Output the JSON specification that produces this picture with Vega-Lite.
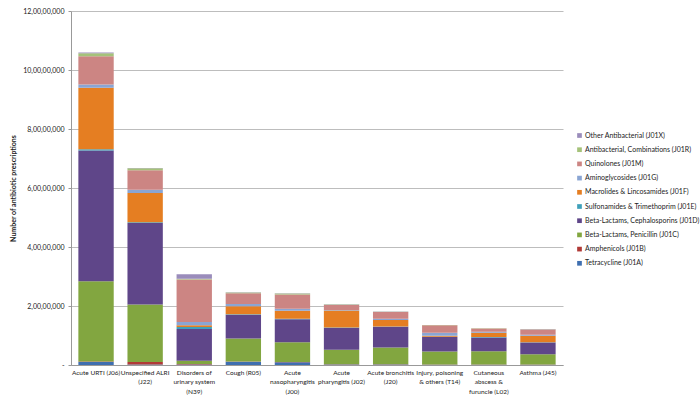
{
  "$schema": "https://vega.github.io/schema/vega-lite/v6.json",
  "width": 492,
  "height": 354,
  "autosize": {"type": "none"},
  "padding": {"left": 71, "top": 11, "right": 137, "bottom": 36},
  "background": "white",
  "config": {
    "view": {"stroke": null},
    "font": "Lato",
    "axis": {"labelFont": "Lato", "titleFont": "Lato", "labelColor": "#222", "titleColor": "#222"}
  },
  "datasets": {
    "rx": [
      {"diagnosis": "Acute URTI (J06)", "cls": "Tetracycline (J01A)", "idx": 0, "value": 1000000},
      {"diagnosis": "Acute URTI (J06)", "cls": "Amphenicols (J01B)", "idx": 1, "value": 200000},
      {"diagnosis": "Acute URTI (J06)", "cls": "Beta-Lactams, Penicillin (J01C)", "idx": 2, "value": 27200000},
      {"diagnosis": "Acute URTI (J06)", "cls": "Beta-Lactams, Cephalosporins (J01D)", "idx": 3, "value": 44300000},
      {"diagnosis": "Acute URTI (J06)", "cls": "Sulfonamides & Trimethoprim (J01E)", "idx": 4, "value": 400000},
      {"diagnosis": "Acute URTI (J06)", "cls": "Macrolides & Lincosamides (J01F)", "idx": 5, "value": 20900000},
      {"diagnosis": "Acute URTI (J06)", "cls": "Aminoglycosides (J01G)", "idx": 6, "value": 1100000},
      {"diagnosis": "Acute URTI (J06)", "cls": "Quinolones (J01M)", "idx": 7, "value": 9600000},
      {"diagnosis": "Acute URTI (J06)", "cls": "Antibacterial, Combinations (J01R)", "idx": 8, "value": 1000000},
      {"diagnosis": "Acute URTI (J06)", "cls": "Other Antibacterial (J01X)", "idx": 9, "value": 200000},

      {"diagnosis": "Unspecified ALRI\n(J22)", "cls": "Tetracycline (J01A)", "idx": 0, "value": 200000},
      {"diagnosis": "Unspecified ALRI\n(J22)", "cls": "Amphenicols (J01B)", "idx": 1, "value": 800000},
      {"diagnosis": "Unspecified ALRI\n(J22)", "cls": "Beta-Lactams, Penicillin (J01C)", "idx": 2, "value": 19500000},
      {"diagnosis": "Unspecified ALRI\n(J22)", "cls": "Beta-Lactams, Cephalosporins (J01D)", "idx": 3, "value": 27600000},
      {"diagnosis": "Unspecified ALRI\n(J22)", "cls": "Sulfonamides & Trimethoprim (J01E)", "idx": 4, "value": 300000},
      {"diagnosis": "Unspecified ALRI\n(J22)", "cls": "Macrolides & Lincosamides (J01F)", "idx": 5, "value": 9900000},
      {"diagnosis": "Unspecified ALRI\n(J22)", "cls": "Aminoglycosides (J01G)", "idx": 6, "value": 1100000},
      {"diagnosis": "Unspecified ALRI\n(J22)", "cls": "Quinolones (J01M)", "idx": 7, "value": 6600000},
      {"diagnosis": "Unspecified ALRI\n(J22)", "cls": "Antibacterial, Combinations (J01R)", "idx": 8, "value": 700000},
      {"diagnosis": "Unspecified ALRI\n(J22)", "cls": "Other Antibacterial (J01X)", "idx": 9, "value": 100000},

      {"diagnosis": "Disorders of\nurinary system\n(N39)", "cls": "Tetracycline (J01A)", "idx": 0, "value": 200000},
      {"diagnosis": "Disorders of\nurinary system\n(N39)", "cls": "Amphenicols (J01B)", "idx": 1, "value": 100000},
      {"diagnosis": "Disorders of\nurinary system\n(N39)", "cls": "Beta-Lactams, Penicillin (J01C)", "idx": 2, "value": 1100000},
      {"diagnosis": "Disorders of\nurinary system\n(N39)", "cls": "Beta-Lactams, Cephalosporins (J01D)", "idx": 3, "value": 10800000},
      {"diagnosis": "Disorders of\nurinary system\n(N39)", "cls": "Sulfonamides & Trimethoprim (J01E)", "idx": 4, "value": 700000},
      {"diagnosis": "Disorders of\nurinary system\n(N39)", "cls": "Macrolides & Lincosamides (J01F)", "idx": 5, "value": 600000},
      {"diagnosis": "Disorders of\nurinary system\n(N39)", "cls": "Aminoglycosides (J01G)", "idx": 6, "value": 1100000},
      {"diagnosis": "Disorders of\nurinary system\n(N39)", "cls": "Quinolones (J01M)", "idx": 7, "value": 14400000},
      {"diagnosis": "Disorders of\nurinary system\n(N39)", "cls": "Antibacterial, Combinations (J01R)", "idx": 8, "value": 200000},
      {"diagnosis": "Disorders of\nurinary system\n(N39)", "cls": "Other Antibacterial (J01X)", "idx": 9, "value": 1600000},

      {"diagnosis": "Cough (R05)", "cls": "Tetracycline (J01A)", "idx": 0, "value": 1100000},
      {"diagnosis": "Cough (R05)", "cls": "Amphenicols (J01B)", "idx": 1, "value": 100000},
      {"diagnosis": "Cough (R05)", "cls": "Beta-Lactams, Penicillin (J01C)", "idx": 2, "value": 7800000},
      {"diagnosis": "Cough (R05)", "cls": "Beta-Lactams, Cephalosporins (J01D)", "idx": 3, "value": 8000000},
      {"diagnosis": "Cough (R05)", "cls": "Sulfonamides & Trimethoprim (J01E)", "idx": 4, "value": 200000},
      {"diagnosis": "Cough (R05)", "cls": "Macrolides & Lincosamides (J01F)", "idx": 5, "value": 2700000},
      {"diagnosis": "Cough (R05)", "cls": "Aminoglycosides (J01G)", "idx": 6, "value": 800000},
      {"diagnosis": "Cough (R05)", "cls": "Quinolones (J01M)", "idx": 7, "value": 3600000},
      {"diagnosis": "Cough (R05)", "cls": "Antibacterial, Combinations (J01R)", "idx": 8, "value": 300000},
      {"diagnosis": "Cough (R05)", "cls": "Other Antibacterial (J01X)", "idx": 9, "value": 100000},

      {"diagnosis": "Acute\nnasopharyngitis\n(J00)", "cls": "Tetracycline (J01A)", "idx": 0, "value": 900000},
      {"diagnosis": "Acute\nnasopharyngitis\n(J00)", "cls": "Amphenicols (J01B)", "idx": 1, "value": 100000},
      {"diagnosis": "Acute\nnasopharyngitis\n(J00)", "cls": "Beta-Lactams, Penicillin (J01C)", "idx": 2, "value": 6700000},
      {"diagnosis": "Acute\nnasopharyngitis\n(J00)", "cls": "Beta-Lactams, Cephalosporins (J01D)", "idx": 3, "value": 7800000},
      {"diagnosis": "Acute\nnasopharyngitis\n(J00)", "cls": "Sulfonamides & Trimethoprim (J01E)", "idx": 4, "value": 200000},
      {"diagnosis": "Acute\nnasopharyngitis\n(J00)", "cls": "Macrolides & Lincosamides (J01F)", "idx": 5, "value": 2700000},
      {"diagnosis": "Acute\nnasopharyngitis\n(J00)", "cls": "Aminoglycosides (J01G)", "idx": 6, "value": 700000},
      {"diagnosis": "Acute\nnasopharyngitis\n(J00)", "cls": "Quinolones (J01M)", "idx": 7, "value": 4800000},
      {"diagnosis": "Acute\nnasopharyngitis\n(J00)", "cls": "Antibacterial, Combinations (J01R)", "idx": 8, "value": 300000},
      {"diagnosis": "Acute\nnasopharyngitis\n(J00)", "cls": "Other Antibacterial (J01X)", "idx": 9, "value": 100000},

      {"diagnosis": "Acute\npharyngitis (J02)", "cls": "Tetracycline (J01A)", "idx": 0, "value": 200000},
      {"diagnosis": "Acute\npharyngitis (J02)", "cls": "Amphenicols (J01B)", "idx": 1, "value": 50000},
      {"diagnosis": "Acute\npharyngitis (J02)", "cls": "Beta-Lactams, Penicillin (J01C)", "idx": 2, "value": 4900000},
      {"diagnosis": "Acute\npharyngitis (J02)", "cls": "Beta-Lactams, Cephalosporins (J01D)", "idx": 3, "value": 7400000},
      {"diagnosis": "Acute\npharyngitis (J02)", "cls": "Sulfonamides & Trimethoprim (J01E)", "idx": 4, "value": 200000},
      {"diagnosis": "Acute\npharyngitis (J02)", "cls": "Macrolides & Lincosamides (J01F)", "idx": 5, "value": 5700000},
      {"diagnosis": "Acute\npharyngitis (J02)", "cls": "Aminoglycosides (J01G)", "idx": 6, "value": 200000},
      {"diagnosis": "Acute\npharyngitis (J02)", "cls": "Quinolones (J01M)", "idx": 7, "value": 1700000},
      {"diagnosis": "Acute\npharyngitis (J02)", "cls": "Antibacterial, Combinations (J01R)", "idx": 8, "value": 200000},
      {"diagnosis": "Acute\npharyngitis (J02)", "cls": "Other Antibacterial (J01X)", "idx": 9, "value": 50000},

      {"diagnosis": "Acute bronchitis\n(J20)", "cls": "Tetracycline (J01A)", "idx": 0, "value": 200000},
      {"diagnosis": "Acute bronchitis\n(J20)", "cls": "Amphenicols (J01B)", "idx": 1, "value": 50000},
      {"diagnosis": "Acute bronchitis\n(J20)", "cls": "Beta-Lactams, Penicillin (J01C)", "idx": 2, "value": 5700000},
      {"diagnosis": "Acute bronchitis\n(J20)", "cls": "Beta-Lactams, Cephalosporins (J01D)", "idx": 3, "value": 7000000},
      {"diagnosis": "Acute bronchitis\n(J20)", "cls": "Sulfonamides & Trimethoprim (J01E)", "idx": 4, "value": 100000},
      {"diagnosis": "Acute bronchitis\n(J20)", "cls": "Macrolides & Lincosamides (J01F)", "idx": 5, "value": 2200000},
      {"diagnosis": "Acute bronchitis\n(J20)", "cls": "Aminoglycosides (J01G)", "idx": 6, "value": 400000},
      {"diagnosis": "Acute bronchitis\n(J20)", "cls": "Quinolones (J01M)", "idx": 7, "value": 2300000},
      {"diagnosis": "Acute bronchitis\n(J20)", "cls": "Antibacterial, Combinations (J01R)", "idx": 8, "value": 100000},
      {"diagnosis": "Acute bronchitis\n(J20)", "cls": "Other Antibacterial (J01X)", "idx": 9, "value": 50000},

      {"diagnosis": "Injury, poisoning\n& others (T14)", "cls": "Tetracycline (J01A)", "idx": 0, "value": 100000},
      {"diagnosis": "Injury, poisoning\n& others (T14)", "cls": "Amphenicols (J01B)", "idx": 1, "value": 50000},
      {"diagnosis": "Injury, poisoning\n& others (T14)", "cls": "Beta-Lactams, Penicillin (J01C)", "idx": 2, "value": 4400000},
      {"diagnosis": "Injury, poisoning\n& others (T14)", "cls": "Beta-Lactams, Cephalosporins (J01D)", "idx": 3, "value": 4900000},
      {"diagnosis": "Injury, poisoning\n& others (T14)", "cls": "Sulfonamides & Trimethoprim (J01E)", "idx": 4, "value": 100000},
      {"diagnosis": "Injury, poisoning\n& others (T14)", "cls": "Macrolides & Lincosamides (J01F)", "idx": 5, "value": 400000},
      {"diagnosis": "Injury, poisoning\n& others (T14)", "cls": "Aminoglycosides (J01G)", "idx": 6, "value": 1000000},
      {"diagnosis": "Injury, poisoning\n& others (T14)", "cls": "Quinolones (J01M)", "idx": 7, "value": 2500000},
      {"diagnosis": "Injury, poisoning\n& others (T14)", "cls": "Antibacterial, Combinations (J01R)", "idx": 8, "value": 100000},
      {"diagnosis": "Injury, poisoning\n& others (T14)", "cls": "Other Antibacterial (J01X)", "idx": 9, "value": 50000},

      {"diagnosis": "Cutaneous\nabscess &\nfuruncle (L02)", "cls": "Tetracycline (J01A)", "idx": 0, "value": 100000},
      {"diagnosis": "Cutaneous\nabscess &\nfuruncle (L02)", "cls": "Amphenicols (J01B)", "idx": 1, "value": 50000},
      {"diagnosis": "Cutaneous\nabscess &\nfuruncle (L02)", "cls": "Beta-Lactams, Penicillin (J01C)", "idx": 2, "value": 4500000},
      {"diagnosis": "Cutaneous\nabscess &\nfuruncle (L02)", "cls": "Beta-Lactams, Cephalosporins (J01D)", "idx": 3, "value": 4700000},
      {"diagnosis": "Cutaneous\nabscess &\nfuruncle (L02)", "cls": "Sulfonamides & Trimethoprim (J01E)", "idx": 4, "value": 100000},
      {"diagnosis": "Cutaneous\nabscess &\nfuruncle (L02)", "cls": "Macrolides & Lincosamides (J01F)", "idx": 5, "value": 1500000},
      {"diagnosis": "Cutaneous\nabscess &\nfuruncle (L02)", "cls": "Aminoglycosides (J01G)", "idx": 6, "value": 300000},
      {"diagnosis": "Cutaneous\nabscess &\nfuruncle (L02)", "cls": "Quinolones (J01M)", "idx": 7, "value": 1100000},
      {"diagnosis": "Cutaneous\nabscess &\nfuruncle (L02)", "cls": "Antibacterial, Combinations (J01R)", "idx": 8, "value": 100000},
      {"diagnosis": "Cutaneous\nabscess &\nfuruncle (L02)", "cls": "Other Antibacterial (J01X)", "idx": 9, "value": 50000},

      {"diagnosis": "Asthma (J45)", "cls": "Tetracycline (J01A)", "idx": 0, "value": 100000},
      {"diagnosis": "Asthma (J45)", "cls": "Amphenicols (J01B)", "idx": 1, "value": 50000},
      {"diagnosis": "Asthma (J45)", "cls": "Beta-Lactams, Penicillin (J01C)", "idx": 2, "value": 3500000},
      {"diagnosis": "Asthma (J45)", "cls": "Beta-Lactams, Cephalosporins (J01D)", "idx": 3, "value": 4000000},
      {"diagnosis": "Asthma (J45)", "cls": "Sulfonamides & Trimethoprim (J01E)", "idx": 4, "value": 100000},
      {"diagnosis": "Asthma (J45)", "cls": "Macrolides & Lincosamides (J01F)", "idx": 5, "value": 2200000},
      {"diagnosis": "Asthma (J45)", "cls": "Aminoglycosides (J01G)", "idx": 6, "value": 300000},
      {"diagnosis": "Asthma (J45)", "cls": "Quinolones (J01M)", "idx": 7, "value": 1800000},
      {"diagnosis": "Asthma (J45)", "cls": "Antibacterial, Combinations (J01R)", "idx": 8, "value": 100000},
      {"diagnosis": "Asthma (J45)", "cls": "Other Antibacterial (J01X)", "idx": 9, "value": 50000}
    ]
  },
  "data": {"name": "rx"},
  "mark": {"type": "bar"},
  "encoding": {
    "x": {
      "field": "diagnosis",
      "type": "nominal",
      "sort": null,
      "scale": {"paddingInner": 0.28, "paddingOuter": 0.15},
      "axis": {
        "title": null,
        "labelAngle": 0,
        "labelExpr": "split(datum.value, '\\n')",
        "labelFontSize": 6.5,
        "labelLineHeight": 9.5,
        "labelPadding": 4,
        "ticks": false,
        "domainColor": "#999",
        "labelLimit": 0
      }
    },
    "y": {
      "field": "value",
      "type": "quantitative",
      "aggregate": "sum",
      "stack": "zero",
      "scale": {"domain": [0, 120000000], "nice": false},
      "axis": {
        "title": "Number of antibiotic prescriptions",
        "titleFontSize": 7,
        "titleFontWeight": "bold",
        "titlePadding": 6,
        "values": [0, 20000000, 40000000, 60000000, 80000000, 100000000, 120000000],
        "labelExpr": "datum.value == 0 ? '-' : format(datum.value / 10000000, 'd') + ',00,00,000'",
        "labelFontSize": 7,
        "labelPadding": 4,
        "tickSize": 3,
        "tickColor": "#999",
        "domainColor": "#999",
        "gridColor": "#bdbdbd",
        "grid": true
      }
    },
    "color": {
      "field": "cls",
      "type": "nominal",
      "scale": {
        "domain": [
          "Other Antibacterial (J01X)",
          "Antibacterial, Combinations (J01R)",
          "Quinolones (J01M)",
          "Aminoglycosides (J01G)",
          "Macrolides & Lincosamides (J01F)",
          "Sulfonamides & Trimethoprim (J01E)",
          "Beta-Lactams, Cephalosporins (J01D)",
          "Beta-Lactams, Penicillin (J01C)",
          "Amphenicols (J01B)",
          "Tetracycline (J01A)"
        ],
        "range": ["#9a8cbb", "#a5c27a", "#cc8583", "#8aa5d3", "#e57e22", "#3fa0ba", "#5f4689", "#82a640", "#b03a36", "#3f6fb0"]
      },
      "legend": {
        "title": null,
        "orient": "none",
        "legendX": 505,
        "legendY": 121,
        "symbolType": "square",
        "symbolSize": 22,
        "symbolStrokeWidth": 0,
        "labelFontSize": 7,
        "labelFont": "Lato",
        "labelColor": "#222",
        "rowPadding": 6.2,
        "labelOffset": 2,
        "labelLimit": 200
      }
    },
    "order": {"field": "idx", "type": "quantitative", "sort": "ascending"}
  }
}
